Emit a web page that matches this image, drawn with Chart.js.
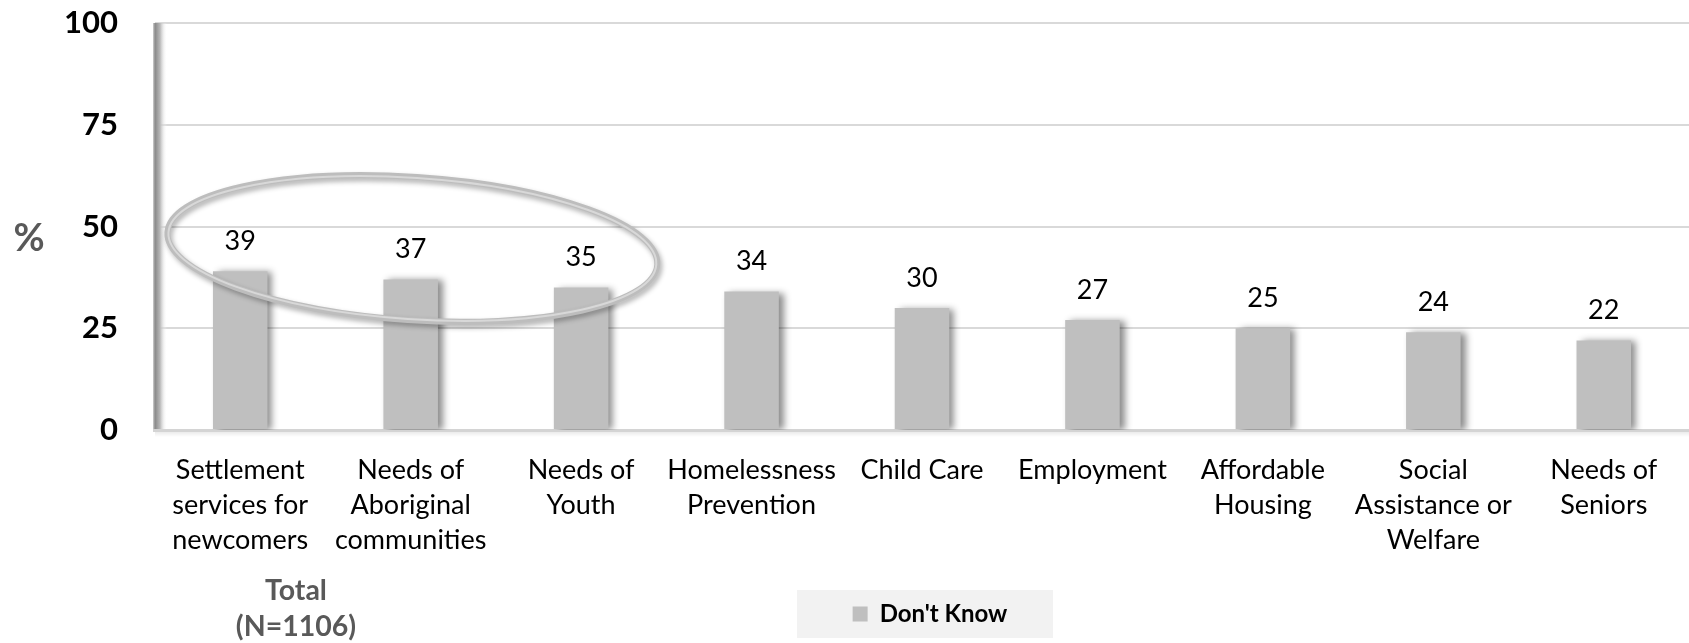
<!DOCTYPE html>
<html>
<head>
<meta charset="utf-8">
<script src="https://cdn.jsdelivr.net/npm/chart.js@4.4.1/dist/chart.umd.min.js"></script>
<style>
  html, body { margin: 0; padding: 0; background: #fff; }
  #wrap { width: 1689px; height: 643px; position: relative; }
</style>
</head>
<body>
<div id="wrap"><canvas id="myChart"></canvas></div>
<script>
'use strict';

let categories = [
    ['Settlement', 'services for', 'newcomers'],
    ['Needs of', 'Aboriginal', 'communities'],
    ['Needs of', 'Youth'],
    ['Homelessness', 'Prevention'],
    ['Child Care'],
    ['Employment'],
    ['Affordable', 'Housing'],
    ['Social', 'Assistance or', 'Welfare'],
    ['Needs of', 'Seniors']
];
let dontKnow = [39, 37, 35, 34, 30, 27, 25, 24, 22];
let yTicks = [0, 25, 50, 75, 100];
let seriesName = "Don't Know";
let groupTitle = ['Total', '(N=1106)'];
let yTitle = '%';

const fontName = 'Lato, "Open Sans", sans-serif';
const barGrey = '#bfbfbf';

let decor = {
    id: 'decor',
    afterLayout(chart) {
        // legend sits a little right of the plot centre
        let lg = chart.legend;
        if (lg) {
            lg.left += 8;
            lg.right += 8;
        }
    },
    beforeDraw(chart) {
        // grey box behind the legend
        let ctx = chart.ctx;
        let lg = chart.legend;
        if (!lg || !lg.legendHitBoxes || !lg.legendHitBoxes.length) return;
        let hb = lg.legendHitBoxes[0];
        let cx = hb.left + hb.width / 2 - 5;
        let cy = hb.top + hb.height / 2;
        ctx.save();
        ctx.fillStyle = '#f2f2f2';
        ctx.fillRect(cx - 128, cy - 24, 256, 48);
        ctx.restore();
    },
    beforeDatasetsDraw(chart) {
        let ctx = chart.ctx;
        let a = chart.chartArea;

        // left wall
        ctx.save();
        let g = ctx.createLinearGradient(a.left - 2, 0, a.left + 12, 0);
        g.addColorStop(0, '#d0d0d0');
        g.addColorStop(0.15, '#8a8a8a');
        g.addColorStop(0.5, '#b8b8b8');
        g.addColorStop(1, 'rgba(255,255,255,0)');
        ctx.fillStyle = g;
        ctx.fillRect(a.left - 2, a.top, 14, a.bottom - a.top);

        // floor
        ctx.fillStyle = '#d4d4d4';
        ctx.fillRect(a.left - 2, a.bottom - 1, a.right - a.left + 2, 3);
        let f = ctx.createLinearGradient(0, a.bottom + 2, 0, a.bottom + 7);
        f.addColorStop(0, 'rgba(0,0,0,0.08)');
        f.addColorStop(1, 'rgba(0,0,0,0)');
        ctx.fillStyle = f;
        ctx.fillRect(a.left, a.bottom + 2, a.right - a.left, 5);
        ctx.restore();

        // soft shadow for the bars
        ctx.save();
        ctx.shadowColor = 'rgba(0,0,0,0.45)';
        ctx.shadowBlur = 7;
        ctx.shadowOffsetX = 5;
        ctx.shadowOffsetY = 1;
    },
    afterDatasetsDraw(chart) {
        let ctx = chart.ctx;
        ctx.restore();

        let xs = chart.scales.x;
        let ys = chart.scales.y;
        let meta = chart.getDatasetMeta(0);

        // value labels
        ctx.save();
        ctx.font = '27px ' + fontName;
        ctx.fillStyle = '#000';
        ctx.textAlign = 'center';
        ctx.textBaseline = 'middle';
        meta.data.forEach((bar, i) => {
            ctx.fillText(String(dontKnow[i]), bar.x, bar.y - 30);
        });
        ctx.restore();

        // ring round the first three bars
        let step = xs.getPixelForValue(1) - xs.getPixelForValue(0);
        let cx = xs.getPixelForValue(1) + step * 0.01;
        let cy = ys.getPixelForValue(44.6);
        let rx = step * 1.44;
        let ry = ys.getPixelForValue(0) - ys.getPixelForValue(17.6);
        ctx.save();
        ctx.shadowColor = 'rgba(0,0,0,0.3)';
        ctx.shadowBlur = 5;
        ctx.shadowOffsetX = 2;
        ctx.shadowOffsetY = 3;
        ctx.strokeStyle = '#bdbdbd';
        ctx.lineWidth = 6;
        ctx.beginPath();
        ctx.ellipse(cx, cy, rx, ry, 0.066, 0, Math.PI * 2);
        ctx.stroke();
        ctx.shadowColor = 'transparent';
        ctx.strokeStyle = '#d8d8d8';
        ctx.lineWidth = 2;
        ctx.beginPath();
        ctx.ellipse(cx, cy, rx - 1, ry - 1, 0.066, 0, Math.PI * 2);
        ctx.stroke();
        ctx.restore();
    },
    afterDraw(chart) {
        let ctx = chart.ctx;
        let a = chart.chartArea;
        ctx.save();
        ctx.fillStyle = '#595959';
        ctx.textAlign = 'center';
        ctx.textBaseline = 'middle';
        ctx.font = 'bold 38px ' + fontName;
        ctx.fillText(yTitle, 29, chart.scales.y.getPixelForValue(47));
        ctx.font = 'bold 28.5px ' + fontName;
        let tx = a.left + 141;
        ctx.fillText(groupTitle[0], tx, a.bottom + 161);
        ctx.fillText(groupTitle[1], tx, a.bottom + 197);
        ctx.restore();
    }
};

const data = {
    labels: categories,
    datasets: [{
        label: seriesName,
        data: dontKnow,
        backgroundColor: barGrey,
        borderWidth: 0,
        barPercentage: 0.32,
        categoryPercentage: 1
    }]
};

const config = {
    type: 'bar',
    data,
    plugins: [decor],
    options: {
        responsive: true,
        maintainAspectRatio: false,
        animation: false,
        layout: {
            padding: { top: 23, right: 0, bottom: 7, left: 0 }
        },
        scales: {
            x: {
                grid: { display: false },
                border: { display: false },
                ticks: {
                    autoSkip: false,
                    maxRotation: 0,
                    minRotation: 0,
                    padding: 15,
                    color: '#000',
                    font: { family: fontName, size: 27, lineHeight: 1.3 }
                },
                afterFit(scale) { scale.height = 162; }
            },
            y: {
                min: 0,
                max: 100,
                afterBuildTicks(scale) {
                    scale.ticks = yTicks.map(v => ({ value: v }));
                },
                grid: { color: '#d9d9d9', lineWidth: 2, drawTicks: false },
                border: { display: false },
                ticks: {
                    padding: 37,
                    color: '#000',
                    font: { family: fontName, size: 31, weight: 'bold' }
                },
                afterFit(scale) {
                    scale.width = 155;
                    // tick padding should not push the plot top down
                    scale.paddingTop = 18;
                    scale.paddingBottom = 18;
                }
            }
        },
        plugins: {
            legend: {
                position: 'bottom',
                fullSize: false,
                labels: {
                    boxWidth: 15,
                    boxHeight: 15,
                    padding: 10,
                    color: '#000',
                    font: { family: fontName, size: 24, weight: 'bold' }
                }
            },
            tooltip: { enabled: false }
        }
    }
};

var myChart = new Chart(document.getElementById('myChart'), config);
</script>
</body>
</html>
